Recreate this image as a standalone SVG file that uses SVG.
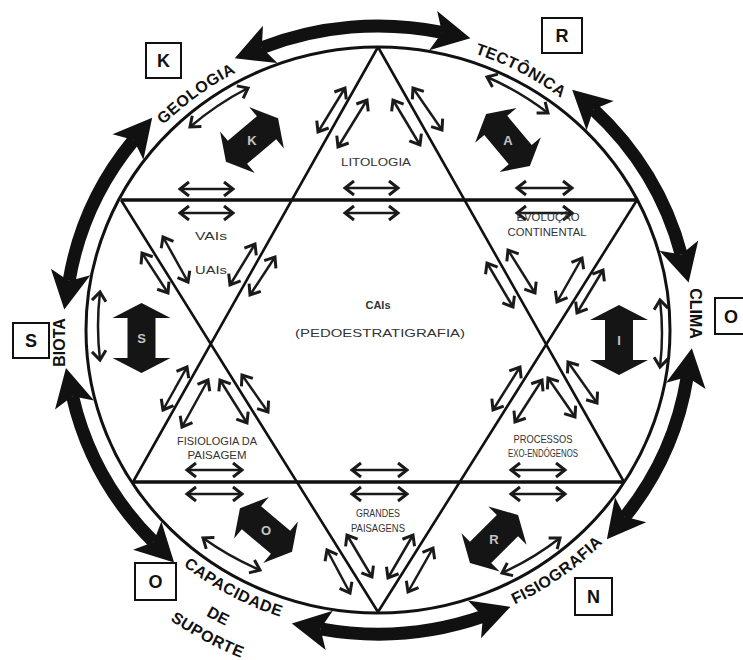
<svg xmlns="http://www.w3.org/2000/svg" width="743" height="660" viewBox="0 0 743 660">
<defs>
<style>
.ln{fill:none;stroke:#111}
.circ{stroke-width:3}
.tri{stroke-width:2.6}
.hl{stroke-width:3.6}
.ta{fill:none;stroke:#1a1a1a;stroke-width:2.5;marker-start:url(#ah);marker-end:url(#ah)}
.big{fill:none;stroke:#111;stroke-width:13;marker-start:url(#bh);marker-end:url(#bh)}
.bx{fill:#fff;stroke:#111;stroke-width:2}
.bxt{font-family:"Liberation Sans",Arial,sans-serif;font-weight:bold;font-size:18px;fill:#111;text-anchor:middle}
.lab{font-family:"Liberation Sans",Arial,sans-serif;font-weight:bold;font-size:16px;fill:#111;text-anchor:middle}
.in{font-family:"Liberation Sans",Arial,sans-serif;font-size:11px;fill:#333;text-anchor:middle}
.arw{fill:#151515}
.al{font-family:"Liberation Sans",Arial,sans-serif;font-weight:bold;font-size:13px;fill:#c4c4c4;text-anchor:middle}
</style>
<marker id="ah" viewBox="-13 -11 18 22" refX="0" refY="0" markerWidth="18" markerHeight="22" markerUnits="userSpaceOnUse" orient="auto-start-reverse">
<path d="M-9,-7 L0,0 L-9,7" fill="none" stroke="#1a1a1a" stroke-width="3"/>
</marker>
<marker id="bh" viewBox="-10 -23 44 46" refX="0" refY="0" markerWidth="44" markerHeight="46" markerUnits="userSpaceOnUse" orient="auto-start-reverse">
<path d="M-9,-20 L29,0 L-9,20 L0,0 Z" fill="#111"/>
</marker>
<polygon id="dv" points="0,-35 29,-20 14,-20 14,20 29,20 0,35 -29,20 -14,20 -14,-20 -29,-20"/>
<polygon id="dt" points="0,-34 27,-19 15,-19 15,19 27,19 0,34 -27,19 -15,19 -15,-19 -27,-19"/>
<path id="pGeo" d="M95.1,230.1 A301,292 0 0 1 357,38.7"/>
<path id="pTec" d="M351.8,39.1 A301,292 0 0 1 642.8,191.1"/>
<path id="pCap" d="M108.7,481 A311,302 0 0 0 392.1,631.7"/>
<path id="pDe" d="M83.6,495.5 A340,331 0 0 0 393.4,660.7"/>
<path id="pSup" d="M63.6,507 A363,354 0 0 0 394.5,683.6"/>
<path id="pFis" d="M405.4,633.8 A314,305 0 0 0 667,449.2"/>
</defs>

<rect width="743" height="660" fill="#fff"/>

<g id="star">
<ellipse class="ln circ" cx="378" cy="330" rx="292" ry="283"/>
<path class="ln tri" d="M378,47 L133,482 M378,47 L624,482 M121,200 L378,612 M637,200 L378,612"/>
<path class="ln hl" d="M121,200 H637 M133,482 H624"/>
</g>

<g id="connectors">
<g id="outer-arrows">
<path class="big" d="M261.8,47.7 A313,304 0 0 1 442,32.4"/>
<path class="big" d="M593.5,109.5 A313,304 0 0 1 681.2,254.4"/>
<path class="big" d="M687.2,377 A313,304 0 0 1 625,516.7"/>
<path class="big" d="M483,616.4 A313,304 0 0 1 320.4,628.8"/>
<path class="big" d="M153.6,541.9 A313,304 0 0 1 72.5,396.3"/>
<path class="big" d="M69.1,280.9 A313,304 0 0 1 133.7,140"/>
</g>
<g id="thin-arrows">
<path class="ta" d="M180,189 H233"/>
<path class="ta" d="M180,213 H233"/>
<path class="ta" d="M345,188 H398"/>
<path class="ta" d="M345,213 H398"/>
<path class="ta" d="M517,188 H572"/>
<path class="ta" d="M517,213 H572"/>
<path class="ta" d="M187,470 H242"/>
<path class="ta" d="M187,494 H242"/>
<path class="ta" d="M352,470 H407"/>
<path class="ta" d="M352,494 H407"/>
<path class="ta" d="M511,470 H565"/>
<path class="ta" d="M511,494 H565"/>

<path class="ta" d="M318,132 L345,88"/>
<path class="ta" d="M338,147 L367,100"/>
<path class="ta" d="M413,88 L442,130"/>
<path class="ta" d="M393,100 L420,145"/>

<path class="ta" d="M142,253 L168,293"/>
<path class="ta" d="M163,237 L188,282"/>
<path class="ta" d="M230,285 L255,244"/>
<path class="ta" d="M250,295 L275,257"/>
<path class="ta" d="M163,410 L187,367"/>
<path class="ta" d="M182,427 L208,380"/>
<path class="ta" d="M220,380 L247,423"/>
<path class="ta" d="M242,375 L268,412"/>

<path class="ta" d="M487,263 L513,307"/>
<path class="ta" d="M508,250 L535,293"/>
<path class="ta" d="M557,302 L582,258"/>
<path class="ta" d="M577,313 L603,270"/>
<path class="ta" d="M493,410 L520,367"/>
<path class="ta" d="M515,422 L542,380"/>
<path class="ta" d="M548,378 L575,417"/>
<path class="ta" d="M568,362 L597,403"/>

<path class="ta" d="M327,550 L350,593"/>
<path class="ta" d="M347,535 L372,577"/>
<path class="ta" d="M413,535 L388,578"/>
<path class="ta" d="M433,548 L408,592"/>

<path class="ta" d="M190,127 Q216.6,104.1 248,88"/>
<path class="ta" d="M487,77 Q519.7,91.2 548,113"/>
<path class="ta" d="M100,292 Q96,326 100,360"/>
<path class="ta" d="M660,300 Q664,333.5 660,367"/>
<path class="ta" d="M203,538 Q229.5,557 260,570"/>
<path class="ta" d="M502,573 Q533.2,558.8 560,538"/>
</g>
</g>

<g id="big-K"><use href="#dt" class="arw" transform="translate(252,140) rotate(50)"/><text class="al" x="252" y="145">K</text></g>
<g id="big-A"><use href="#dt" class="arw" transform="translate(508,140) rotate(-40)"/><text class="al" x="508" y="145">A</text></g>
<g id="big-S"><use href="#dv" class="arw" transform="translate(141.5,338)"/><text class="al" x="141.5" y="343">S</text></g>
<g id="big-I"><use href="#dv" class="arw" transform="translate(619,340)"/><text class="al" x="619" y="345">I</text></g>
<g id="big-O"><use href="#dt" class="arw" transform="translate(266,530) rotate(-50)"/><text class="al" x="266" y="535">O</text></g>
<g id="big-R"><use href="#dt" class="arw" transform="translate(494,539) rotate(45)"/><text class="al" x="494" y="544">R</text></g>

<g id="geologia"><text class="lab" letter-spacing="0.5"><textPath href="#pGeo" startOffset="50%">GEOLOGIA</textPath></text></g>
<g id="tectonica"><text class="lab" letter-spacing="0.5"><textPath href="#pTec" startOffset="50%">TECTÔNICA</textPath></text></g>
<g id="clima"><text class="lab" transform="translate(690,313.5) rotate(90)">CLIMA</text></g>
<g id="biota"><text class="lab" transform="translate(65,342.5) rotate(-90)">BIOTA</text></g>
<g id="fisiografia"><text class="lab" letter-spacing="0.5"><textPath href="#pFis" startOffset="50%">FISIOGRAFIA</textPath></text></g>
<g id="capacidade">
<text class="lab" letter-spacing="0.5"><textPath href="#pCap" startOffset="50%">CAPACIDADE</textPath></text>
<text class="lab"><textPath href="#pDe" startOffset="50%">DE</textPath></text>
<text class="lab" letter-spacing="0.5"><textPath href="#pSup" startOffset="50%">SUPORTE</textPath></text>
</g>

<g id="box-K"><rect class="bx" x="146" y="43" width="35" height="35"/><text class="bxt" x="163.5" y="67">K</text></g>
<g id="box-R"><rect class="bx" x="542" y="18" width="40" height="35"/><text class="bxt" x="562" y="42">R</text></g>
<g id="box-S"><rect class="bx" x="13" y="323" width="36" height="35"/><text class="bxt" x="31" y="347">S</text></g>
<g id="box-O-right"><rect class="bx" x="715" y="298" width="40" height="36"/><text class="bxt" x="731" y="322.5">O</text></g>
<g id="box-O-left"><rect class="bx" x="135" y="563" width="41" height="37"/><text class="bxt" x="155.5" y="588">O</text></g>
<g id="box-N"><rect class="bx" x="575" y="578" width="37" height="37"/><text class="bxt" x="593.5" y="603">N</text></g>

<g id="litologia"><text class="in" x="376" y="166" font-size="12.5" textLength="70" lengthAdjust="spacingAndGlyphs">LITOLOGIA</text></g>
<g id="vais"><text class="in" x="211" y="240" font-size="15" textLength="32" lengthAdjust="spacingAndGlyphs">VAIs</text></g>
<g id="uais"><text class="in" x="211" y="274" font-size="15" textLength="32" lengthAdjust="spacingAndGlyphs">UAIs</text></g>
<g id="evolucao">
<text class="in" x="548" y="221" textLength="63" lengthAdjust="spacingAndGlyphs">EVOLUÇÃO</text>
<text class="in" x="547" y="236" textLength="79" lengthAdjust="spacingAndGlyphs">CONTINENTAL</text>
</g>
<g id="cais">
<text class="in" x="378" y="309" font-size="15" font-weight="bold" fill="#111">CAIs</text>
<text class="in" x="380" y="337" font-size="14" textLength="170" lengthAdjust="spacingAndGlyphs">(PEDOESTRATIGRAFIA)</text>
</g>
<g id="fisiologia">
<text class="in" x="217" y="445" textLength="80" lengthAdjust="spacingAndGlyphs">FISIOLOGIA DA</text>
<text class="in" x="217" y="459" textLength="59" lengthAdjust="spacingAndGlyphs">PAISAGEM</text>
</g>
<g id="grandes">
<text class="in" x="378" y="517" textLength="44" lengthAdjust="spacingAndGlyphs">GRANDES</text>
<text class="in" x="378" y="532" textLength="54" lengthAdjust="spacingAndGlyphs">PAISAGENS</text>
</g>
<g id="processos">
<text class="in" x="543" y="443" font-size="10" textLength="59" lengthAdjust="spacingAndGlyphs">PROCESSOS</text>
<text class="in" x="543" y="457" font-size="10" textLength="70" lengthAdjust="spacingAndGlyphs">EXO-ENDÓGENOS</text>
</g>
</svg>
